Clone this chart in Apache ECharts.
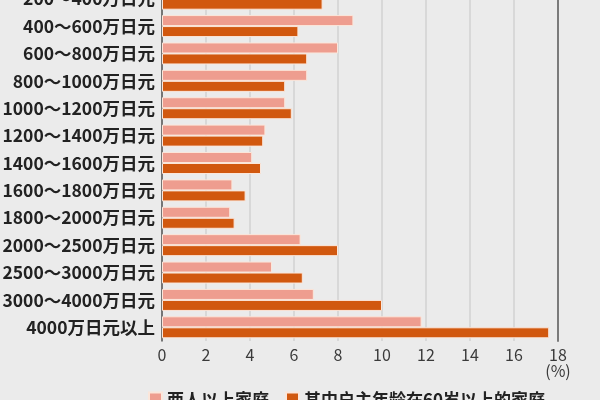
<!DOCTYPE html>
<html><head><meta charset="utf-8">
<script src="https://cdn.jsdelivr.net/npm/echarts@6/dist/echarts.min.js"></script>
<style>html,body{margin:0;padding:0;background:#ebebeb}#c{width:600px;height:400px}</style>
</head><body><div id="c"></div>
<script>
var categories = ['200～400万日元','400～600万日元','600～800万日元','800～1000万日元','1000～1200万日元','1200～1400万日元','1400～1600万日元','1600～1800万日元','1800～2000万日元','2000～2500万日元','2500～3000万日元','3000～4000万日元','4000万日元以上'];
var seriesNames = ['两人以上家庭','其中户主年龄在60岁以上的家庭'];
var allHouseholds = [8.6, 8.7, 8.0, 6.6, 5.6, 4.7, 4.1, 3.2, 3.1, 6.3, 5.0, 6.9, 11.8];
var elderlyHouseholds = [7.3, 6.2, 6.6, 5.6, 5.9, 4.6, 4.5, 3.8, 3.3, 8.0, 6.4, 10.0, 17.6];
var xTicks = [0, 2, 4, 6, 8, 10, 12, 14, 16, 18];

var chart = echarts.init(document.getElementById('c'));
var font = '"Noto Sans CJK JP", "Noto Sans CJK SC", sans-serif';
chart.setOption({
  backgroundColor: '#ebebeb',
  animation: false,
  textStyle: {fontFamily: font},
  grid: {left: 162, right: 42, top: -15, bottom: 59, containLabel: false, outerBoundsMode: 'none'},
  legend: {
    data: seriesNames, left: 143, top: 386, itemGap: 16, itemWidth: 13, itemHeight: 14,
    icon: 'rect',
    textStyle: {fontSize: 17, fontWeight: 'bold', color: '#222', fontFamily: font}
  },
  xAxis: {
    type: 'value', min: xTicks[0], max: xTicks[xTicks.length - 1], interval: 2,
    axisLine: {show: false}, axisTick: {show: false},
    splitLine: {show: true, lineStyle: {color: '#d2d2d2', width: 1.5}},
    axisLabel: {
      fontSize: 16, color: '#3a3a3a', margin: 6, lineHeight: 16,
      formatter: function (v) { return v === 18 ? '18\n(%)' : String(v); }
    }
  },
  yAxis: [{
    type: 'category', data: categories, inverse: true,
    axisLine: {show: true, lineStyle: {color: '#555', width: 1.5}},
    axisTick: {show: false},
    axisLabel: {fontSize: 17.5, color: '#222', margin: 7, fontWeight: 'bold'}
  }, {
    type: 'category', data: categories, inverse: true, position: 'right',
    axisLine: {show: true, lineStyle: {color: '#7a7a7a', width: 2}},
    axisTick: {show: false}, axisLabel: {show: false}
  }],
  series: [{
    name: seriesNames[0], type: 'bar', data: allHouseholds,
    barWidth: 11, barGap: '0%',
    itemStyle: {color: '#ee9d8f', borderColor: '#fbe6da', borderWidth: 1}
  }, {
    name: seriesNames[1], type: 'bar', data: elderlyHouseholds,
    barWidth: 11, barGap: '0%',
    itemStyle: {color: '#d1580f', borderColor: '#fbe6da', borderWidth: 1}
  }]
});
</script></body></html>
